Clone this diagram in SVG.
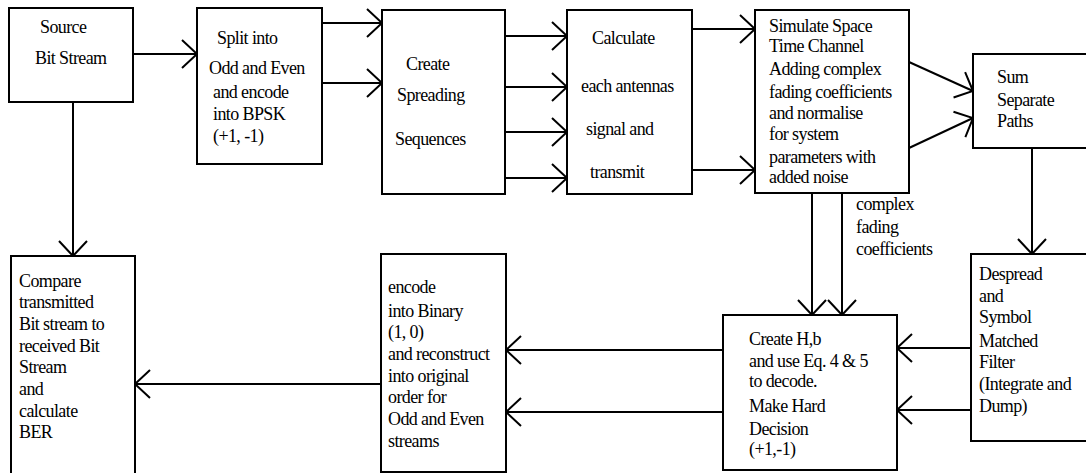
<svg xmlns="http://www.w3.org/2000/svg" width="1086" height="473" viewBox="0 0 1086 473">
<style>
.box{fill:#fff;stroke:#000;stroke-width:2}
.c{fill:none;stroke:#000;stroke-width:2;marker-end:url(#ah)}
.t{font-family:'Liberation Serif',serif;font-size:18px;letter-spacing:-0.6px;fill:#000}
</style>
<defs>
<marker id="ah" viewBox="-18 -16 20 32" markerWidth="20" markerHeight="32" refX="0" refY="0" orient="auto" markerUnits="userSpaceOnUse" overflow="visible">
<path d="M-15,-14 L0,0 L-15,14" fill="none" stroke="#000" stroke-width="2"/>
</marker>
</defs>
<rect width="1086" height="473" fill="#fff"/>
<g id="connectors">
<path class="c" d="M133,54 H197"/>
<path class="c" d="M322,23 H382"/>
<path class="c" d="M322,83 H382"/>
<path class="c" d="M505,36 H567"/>
<path class="c" d="M505,87 H567"/>
<path class="c" d="M505,132 H567"/>
<path class="c" d="M505,178 H567"/>
<path class="c" d="M692,29 H755"/>
<path class="c" d="M692,170 H755"/>
<path class="c" d="M909,62 L973,91"/>
<path class="c" d="M909,148 L973,118"/>
<path class="c" d="M812,193 V315"/>
<path class="c" d="M842,193 V315"/>
<path class="c" d="M1032,148 V254"/>
<path class="c" d="M971,348 H897"/>
<path class="c" d="M971,410 H897"/>
<path class="c" d="M723,350 H506"/>
<path class="c" d="M723,412 H506"/>
<path class="c" d="M381,384 H135"/>
<path class="c" d="M73,102 V256"/>
</g>
<g id="source">
<rect class="box" x="9" y="8" width="124" height="94"/>
<text class="t" font-family="Liberation Serif" x="40" y="33">Source</text>
<text class="t" font-family="Liberation Serif" x="35" y="64">Bit Stream</text>
</g>
<g id="split">
<rect class="box" x="197" y="8" width="125" height="156"/>
<text class="t" font-family="Liberation Serif" x="217" y="44">Split into</text>
<text class="t" font-family="Liberation Serif" x="209" y="74">Odd and Even</text>
<text class="t" font-family="Liberation Serif" x="213" y="98">and encode</text>
<text class="t" font-family="Liberation Serif" x="213" y="120">into BPSK</text>
<text class="t" font-family="Liberation Serif" x="213" y="142">(+1, -1)</text>
</g>
<g id="spreading">
<rect class="box" x="382" y="10" width="123" height="184"/>
<text class="t" font-family="Liberation Serif" x="406" y="70">Create</text>
<text class="t" font-family="Liberation Serif" x="397" y="101">Spreading</text>
<text class="t" font-family="Liberation Serif" x="395" y="145">Sequences</text>
</g>
<g id="calculate">
<rect class="box" x="567" y="10" width="125" height="184"/>
<text class="t" font-family="Liberation Serif" x="592" y="44">Calculate</text>
<text class="t" font-family="Liberation Serif" x="581" y="92">each antennas</text>
<text class="t" font-family="Liberation Serif" x="586" y="135">signal and</text>
<text class="t" font-family="Liberation Serif" x="590" y="178">transmit</text>
</g>
<g id="simulate">
<rect class="box" x="755" y="10" width="154" height="183"/>
<text class="t" font-family="Liberation Serif" x="769" y="32">Simulate Space</text>
<text class="t" font-family="Liberation Serif" x="769" y="52">Time Channel</text>
<text class="t" font-family="Liberation Serif" x="769" y="75">Adding complex</text>
<text class="t" font-family="Liberation Serif" x="769" y="98">fading coefficients</text>
<text class="t" font-family="Liberation Serif" x="769" y="119">and normalise</text>
<text class="t" font-family="Liberation Serif" x="769" y="140">for system</text>
<text class="t" font-family="Liberation Serif" x="769" y="163">parameters with</text>
<text class="t" font-family="Liberation Serif" x="769" y="183">added noise</text>
</g>
<g id="sum">
<rect class="box" x="973" y="54" width="120" height="94"/>
<text class="t" font-family="Liberation Serif" x="997" y="83">Sum</text>
<text class="t" font-family="Liberation Serif" x="997" y="106">Separate</text>
<text class="t" font-family="Liberation Serif" x="997" y="127">Paths</text>
</g>
<g id="fading-label">
<text class="t" font-family="Liberation Serif" x="856" y="210">complex</text>
<text class="t" font-family="Liberation Serif" x="856" y="233">fading</text>
<text class="t" font-family="Liberation Serif" x="856" y="255">coefficients</text>
</g>
<g id="despread">
<rect class="box" x="971" y="254" width="122" height="187"/>
<text class="t" font-family="Liberation Serif" x="979" y="280">Despread</text>
<text class="t" font-family="Liberation Serif" x="979" y="302">and</text>
<text class="t" font-family="Liberation Serif" x="979" y="323">Symbol</text>
<text class="t" font-family="Liberation Serif" x="979" y="347">Matched</text>
<text class="t" font-family="Liberation Serif" x="979" y="368">Filter</text>
<text class="t" font-family="Liberation Serif" x="979" y="390">(Integrate and</text>
<text class="t" font-family="Liberation Serif" x="979" y="412">Dump)</text>
</g>
<g id="createhb">
<rect class="box" x="723" y="315" width="174" height="155"/>
<text class="t" font-family="Liberation Serif" x="749" y="345">Create H,b</text>
<text class="t" font-family="Liberation Serif" x="749" y="367">and use Eq. 4 &amp; 5</text>
<text class="t" font-family="Liberation Serif" x="749" y="387">to decode.</text>
<text class="t" font-family="Liberation Serif" x="749" y="412">Make Hard</text>
<text class="t" font-family="Liberation Serif" x="749" y="435">Decision</text>
<text class="t" font-family="Liberation Serif" x="749" y="455">(+1,-1)</text>
</g>
<g id="encode">
<rect class="box" x="381" y="254" width="125" height="218"/>
<text class="t" font-family="Liberation Serif" x="388" y="293">encode</text>
<text class="t" font-family="Liberation Serif" x="388" y="317">into Binary</text>
<text class="t" font-family="Liberation Serif" x="388" y="338">(1, 0)</text>
<text class="t" font-family="Liberation Serif" x="388" y="360">and reconstruct</text>
<text class="t" font-family="Liberation Serif" x="388" y="382">into original</text>
<text class="t" font-family="Liberation Serif" x="388" y="403">order for</text>
<text class="t" font-family="Liberation Serif" x="388" y="425">Odd and Even</text>
<text class="t" font-family="Liberation Serif" x="388" y="447">streams</text>
</g>
<g id="compare">
<rect class="box" x="11" y="256" width="124" height="230"/>
<text class="t" font-family="Liberation Serif" x="19" y="287">Compare</text>
<text class="t" font-family="Liberation Serif" x="19" y="308">transmitted</text>
<text class="t" font-family="Liberation Serif" x="19" y="330">Bit stream to</text>
<text class="t" font-family="Liberation Serif" x="19" y="352">received Bit</text>
<text class="t" font-family="Liberation Serif" x="19" y="373">Stream</text>
<text class="t" font-family="Liberation Serif" x="19" y="395">and</text>
<text class="t" font-family="Liberation Serif" x="19" y="417">calculate</text>
<text class="t" font-family="Liberation Serif" x="19" y="438">BER</text>
</g>
</svg>
